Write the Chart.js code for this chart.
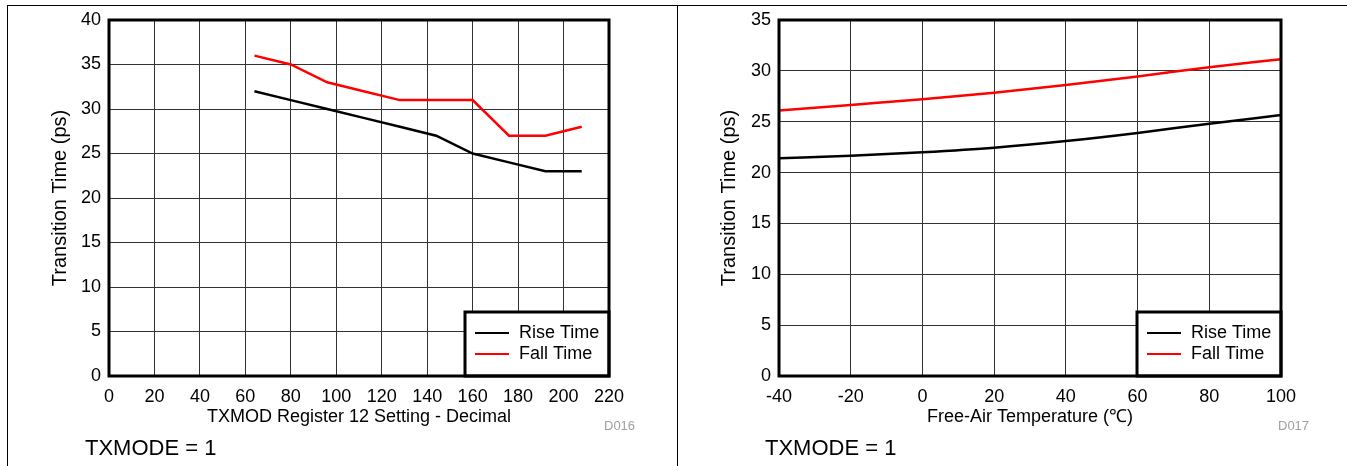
<!DOCTYPE html>
<html>
<head>
<meta charset="utf-8">
<script src="https://cdn.jsdelivr.net/npm/chart.js@4"></script>
<style>
  body { margin: 0; background: #fff; font-family: "Liberation Sans", Arial, sans-serif; }
  #page { position: relative; width: 1347px; height: 466px; overflow: hidden; }
  .pane { position: absolute; top: 0; }
  .rule { position: absolute; background: #000; }
  .note { position: absolute; font-size: 22px; color: #000; }
  .code { position: absolute; font-size: 13px; color: #a0a0a0; }
</style>
</head>
<body>
<div id="page">
  <div class="rule" style="left:7px;top:5px;width:1340px;height:1px"></div>
  <div class="rule" style="left:7px;top:5px;width:1px;height:461px"></div>
  <div class="rule" style="left:677px;top:5px;width:1px;height:461px"></div>
  <div class="pane" style="left:0;width:678px;height:466px"><canvas id="regChart" width="678" height="466"></canvas></div>
  <div class="pane" style="left:678px;width:669px;height:466px"><canvas id="tempChart" width="669" height="466"></canvas></div>
  <div class="note" style="left:85px;top:435px">TXMODE = 1</div>
  <div class="code" style="left:604px;top:418px">D016</div>
  <div class="note" style="left:765px;top:435px">TXMODE = 1</div>
  <div class="code" style="left:1278px;top:418px">D017</div>
</div>
<script>
// register 12 sweep
const regSetting = [64, 80, 96, 112, 128, 144, 160, 176, 192, 208];
const riseTimeReg = [32, 31, 30, 29, 28, 27, 25, 24, 23, 23];
const fallTimeReg = [36, 35, 33, 32, 31, 31, 31, 27, 27, 28];

// temperature sweep
const temperature = [-40, -20, 0, 20, 40, 60, 80, 100];
const riseTimeTemp = [21.4, 21.65, 22.0, 22.45, 23.1, 23.9, 24.8, 25.65];
const fallTimeTemp = [26.1, 26.65, 27.2, 27.85, 28.6, 29.45, 30.35, 31.15];

const regTicks = [0, 20, 40, 60, 80, 100, 120, 140, 160, 180, 200, 220];
const tempTicks = [-40, -20, 0, 20, 40, 60, 80, 100];

const FONT = "'Liberation Sans', Arial, sans-serif";

function pts(xs, ys) {
    return xs.map((x, i) => ({ x: x, y: ys[i] }));
}

// thick plot frame + boxed legend in the lower right corner
const frameLegend = {
    id: "frameLegend",
    afterDraw(chart) {
        const ctx = chart.ctx;
        const a = chart.chartArea;
        ctx.save();
        const w = 144, h = 64;
        const bx = a.right - w, by = a.bottom - h;
        ctx.fillStyle = "#fff";
        ctx.fillRect(bx, by, w, h);
        ctx.lineWidth = 3;
        ctx.strokeStyle = "#000";
        ctx.strokeRect(bx, by, w, h);
        ctx.font = "18px " + FONT;
        ctx.textBaseline = "middle";
        chart.data.datasets.forEach((ds, i) => {
            const y = by + 21 + i * 21;
            ctx.strokeStyle = ds.borderColor;
            ctx.lineWidth = 2;
            ctx.beginPath();
            ctx.moveTo(bx + 10, y);
            ctx.lineTo(bx + 44, y);
            ctx.stroke();
            ctx.fillStyle = "#000";
            ctx.fillText(ds.label, bx + 54, y);
        });
        ctx.lineWidth = 3;
        ctx.strokeStyle = "#000";
        ctx.strokeRect(a.left, a.top, a.right - a.left, a.bottom - a.top);
        ctx.restore();
    }
};

function makeChart(id, xs, rise, fall, ticks, xMin, xMax, yMax, xTitle, pad, yWidth, smooth) {
    return new Chart(document.getElementById(id), {
        type: "line",
        data: {
            datasets: [
                { label: "Rise Time", data: pts(xs, rise), borderColor: "#000" },
                { label: "Fall Time", data: pts(xs, fall), borderColor: "#ff0000" }
            ]
        },
        options: {
            responsive: false,
            animation: false,
            layout: { padding: pad },
            elements: {
                point: { radius: 0 },
                line: { borderWidth: 2.5, tension: smooth ? 0.4 : 0, cubicInterpolationMode: smooth ? "monotone" : "default" }
            },
            plugins: { legend: { display: false }, tooltip: { enabled: false } },
            scales: {
                x: {
                    type: "linear",
                    min: xMin,
                    max: xMax,
                    afterBuildTicks: s => { s.ticks = ticks.map(v => ({ value: v })); },
                    afterFit: s => { s.height = 52; },
                    grid: { color: "#333", lineWidth: 1, drawTicks: false },
                    border: { display: false },
                    ticks: { color: "#000", font: { family: FONT, size: 18 }, padding: 10, maxRotation: 0, autoSkip: false },
                    title: { display: true, text: xTitle, color: "#000", font: { family: FONT, size: 18 }, padding: 0 }
                },
                y: {
                    min: 0,
                    max: yMax,
                    ticks: { stepSize: 5, color: "#000", font: { family: FONT, size: 18 }, padding: 8 },
                    afterFit: s => { s.width = yWidth; },
                    grid: { color: "#333", lineWidth: 1, drawTicks: false },
                    border: { display: false },
                    title: { display: true, text: "Transition Time (ps)", color: "#000", font: { family: FONT, size: 20 }, padding: 0 }
                }
            }
        },
        plugins: [frameLegend]
    });
}

makeChart("regChart", regSetting, riseTimeReg, fallTimeReg, regTicks, 0, 220, 40,
    "TXMOD Register 12 Setting - Decimal",
    { left: 48, right: 69, top: 20, bottom: 38 }, 61, false);

makeChart("tempChart", temperature, riseTimeTemp, fallTimeTemp, tempTicks, -40, 100, 35,
    "Free-Air Temperature (\u2103)",
    { left: 39, right: 66, top: 20, bottom: 38 }, 62, true);
</script>
</body>
</html>
